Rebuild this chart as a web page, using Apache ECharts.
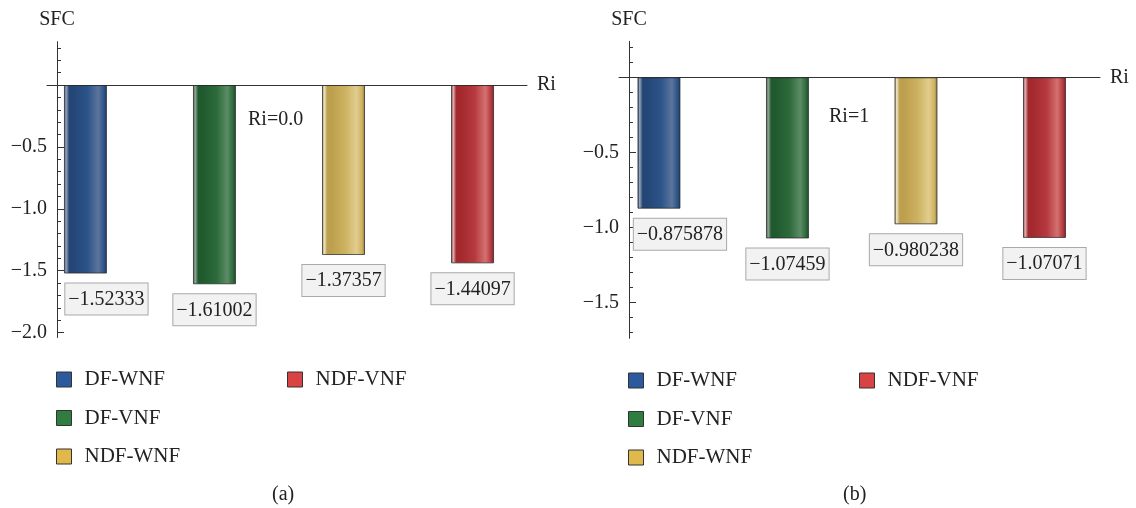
<!DOCTYPE html>
<html>
<head>
<meta charset="utf-8">
<script src="https://cdn.jsdelivr.net/npm/echarts@6/dist/echarts.min.js"></script>
<style>
html,body{margin:0;padding:0;background:#fff;}
#chart{width:1136px;height:508px;}
</style>
</head>
<body>
<div id="chart"></div>
<script>
// ---- data ----
const categories = ['DF-WNF', 'DF-VNF', 'NDF-WNF', 'NDF-VNF'];
const valuesA = [-1.52333, -1.61002, -1.37357, -1.44097];   // Ri = 0.0
const valuesB = [-0.875878, -1.07459, -0.980238, -1.07071]; // Ri = 1
const majorTicksA = [-2.0, -1.5, -1.0, -0.5, 0];
const majorTicksB = [-1.5, -1.0, -0.5, 0];
const labelTicksA = [-2.0, -1.5, -1.0, -0.5];
const labelTicksB = [-1.5, -1.0, -0.5];
const annotationA = 'Ri=0.0';
const annotationB = 'Ri=1';

// ---- styles ----
const FONT = "'Liberation Serif', 'DejaVu Serif', serif";
const legendColors = ['#2b5b9c', '#2f7d40', '#e0b84c', '#d94343'];
const barShades = [
  ['#1d3a63', '#9aa6ba', '#234676', '#2d5489', '#5b759c'],
  ['#1b4a27', '#98a99c', '#1f5a2e', '#2c6a3b', '#5c8c66'],
  ['#93793a', '#eee6ca', '#bda04d', '#cdb262', '#e2cd8e'],
  ['#7e1f24', '#e0b8b8', '#a3292f', '#b6393f', '#d27171']
];
function grad(s) {
  return {
    type: 'linear', x: 0, y: 0, x2: 1, y2: 0,
    colorStops: [
      {offset: 0, color: s[0]},
      {offset: 0.05, color: s[1]},
      {offset: 0.12, color: s[2]},
      {offset: 0.22, color: s[2]},
      {offset: 0.55, color: s[3]},
      {offset: 0.8, color: s[4]},
      {offset: 0.93, color: s[3]},
      {offset: 1, color: s[0]}
    ]
  };
}
function range(from, to) { // minor tick positions (every 0.1)
  const out = [];
  for (let k = Math.round(from * 10); k >= Math.round(to * 10); k--) out.push(k / 10);
  return out;
}
const minorTicksA = range(0.3, -2.0);
const minorTicksB = range(0.2, -1.7);
const fmt = v => '\u2212' + Math.abs(v).toFixed(1);
const lblFmt = p => '\u2212' + Math.abs(p.value[1]);

function yAxesFor(gridIndex, min, max, minor, major, labels) {
  return [{
    type: 'value', gridIndex, min, max, offset: -10, position: 'left',
    axisLine: {show: true, onZero: false, lineStyle: {color: '#333', width: 1}},
    axisTick: {show: true, inside: true, length: 4, customValues: minor, lineStyle: {color: '#333'}},
    axisLabel: {show: true, customValues: labels, formatter: fmt, margin: 10,
      fontFamily: FONT, fontSize: 20, color: '#222'},
    splitLine: {show: false},
    name: 'SFC', nameLocation: 'end', nameGap: 12,
    nameTextStyle: {fontFamily: FONT, fontSize: 20, color: '#222'}
  }, {
    type: 'value', gridIndex, min, max, offset: -10, position: 'left',
    axisLine: {show: false, onZero: false},
    axisTick: {show: true, inside: true, length: 7, customValues: major, lineStyle: {color: '#333'}},
    axisLabel: {show: false},
    splitLine: {show: false}
  }];
}
function xAxisFor(gridIndex, min, max) {
  return {
    type: 'value', gridIndex, min, max,
    axisLine: {show: true, onZero: true, lineStyle: {color: '#333', width: 1}},
    axisTick: {show: false}, axisLabel: {show: false}, splitLine: {show: false},
    name: 'Ri', nameLocation: 'end', nameGap: 10,
    nameTextStyle: {fontFamily: FONT, fontSize: 20, color: '#222'}
  };
}
function seriesFor(values, xAxisIndex, yAxisIndex) {
  return values.map((v, i) => ({
    type: 'bar', name: categories[i], xAxisIndex, yAxisIndex,
    data: [[i, v]], barWidth: 43, barGap: '-100%',
    itemStyle: {color: grad(barShades[i]), borderColor: 'rgba(40,40,40,0.75)', borderWidth: 1},
    label: {
      show: true, position: 'bottom', distance: 10, formatter: lblFmt,
      offset: i === 0 ? [21, 0] : [0, 0],
      fontFamily: FONT, fontSize: 20, color: '#222', lineHeight: 20,
      backgroundColor: '#f1f2f1', borderColor: '#a9a9a9', borderWidth: 1,
      padding: [6, 3, 5, 3]
    }
  }));
}
function legendFor(names, left, top, gap) {
  return {
    orient: 'vertical', left, top, padding: 0, itemWidth: 15, itemHeight: 15, itemGap: gap,
    selectedMode: false, icon: 'rect',
    textStyle: {fontFamily: FONT, fontSize: 21, color: '#222', lineHeight: 20, padding: [0, 0, 0, 8]},
    data: names.map(n => ({name: n, itemStyle: {color: legendColors[categories.indexOf(n)], borderColor: '#333', borderWidth: 1}}))
  };
}

const chart = echarts.init(document.getElementById('chart'));
chart.setOption({
  animation: false,
  backgroundColor: '#fff',
  grid: [
    {left: 47, width: 480, top: 41.7, height: 295.8},
    {left: 619, width: 481, top: 41.3, height: 297}
  ],
  xAxis: [xAxisFor(0, -0.298, 3.422), xAxisFor(1, -0.311, 3.432)],
  yAxis: [
    ...yAxesFor(0, -2.04, 0.35, minorTicksA, majorTicksA, labelTicksA),
    ...yAxesFor(1, -1.74, 0.24, minorTicksB, majorTicksB, labelTicksB)
  ],
  legend: [
    legendFor(categories.slice(0, 3), 56, 369, 17.5),
    legendFor(categories.slice(3), 287, 369, 17.5),
    legendFor(categories.slice(0, 3), 628, 370, 17.5),
    legendFor(categories.slice(3), 859, 370, 17.5)
  ],
  graphic: [
    {type: 'text', left: 248, top: 110, style: {text: annotationA, font: '20px ' + FONT, fill: '#222'}},
    {type: 'text', left: 829, top: 107, style: {text: annotationB, font: '20px ' + FONT, fill: '#222'}},
    {type: 'text', left: 272, top: 485, style: {text: '(a)', font: '20px ' + FONT, fill: '#222'}},
    {type: 'text', left: 843, top: 485, style: {text: '(b)', font: '20px ' + FONT, fill: '#222'}}
  ],
  series: [...seriesFor(valuesA, 0, 0), ...seriesFor(valuesB, 1, 2)]
});
</script>
</body>
</html>
